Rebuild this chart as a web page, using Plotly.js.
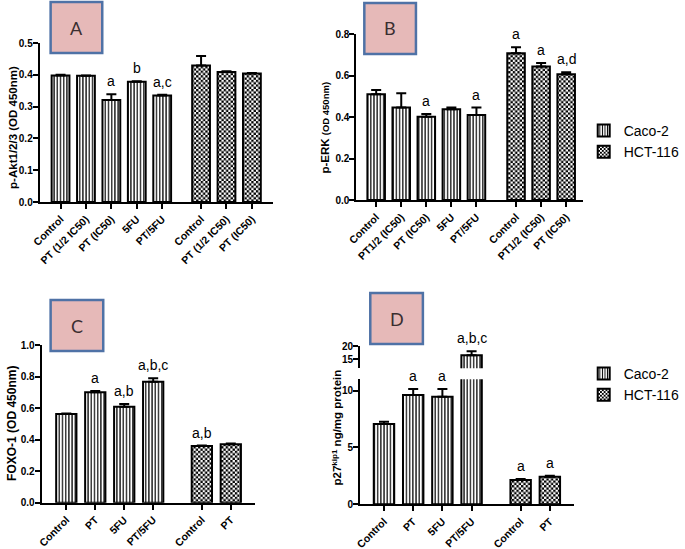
<!DOCTYPE html>
<html>
<head>
<meta charset="utf-8">
<script src="https://cdn.plot.ly/plotly-3.0.1.min.js"></script>
<style>html,body{margin:0;padding:0;background:#fff;}#chart{width:685px;height:549px;}</style>
</head>
<body>
<div id="chart"></div>
<script>
// ---------- DATA ----------
const seriesNames = ["Caco-2", "HCT-116"];

// Panel A
const aCacoLabels = ["Control", "PT (1/2 IC50)", "PT (IC50)", "5FU", "PT/5FU"];
const aCacoVals   = [0.398, 0.397, 0.321, 0.378, 0.335];
const aCacoErr    = [0.002, 0.001, 0.018, 0.002, 0.002];
const aCacoSig    = ["", "", "a", "b", "a,c"];
const aHctLabels  = ["Control", "PT (1/2 IC50)", "PT (IC50)"];
const aHctVals    = [0.429, 0.409, 0.404];
const aHctErr     = [0.030, 0.002, 0.002];
const aHctSig     = ["", "", ""];

// Panel B
const bCacoLabels = ["Control", "PT1/2 (IC50)", "PT (IC50)", "5FU", "PT/5FU"];
const bCacoVals   = [0.510, 0.446, 0.402, 0.438, 0.410];
const bCacoErr    = [0.021, 0.069, 0.013, 0.009, 0.036];
const bCacoSig    = ["", "", "a", "", "a"];
const bHctLabels  = ["Control", "PT1/2 (IC50)", "PT (IC50)"];
const bHctVals    = [0.708, 0.644, 0.607];
const bHctErr     = [0.029, 0.018, 0.010];
const bHctSig     = ["a", "a", "a,d"];

// Panel C
const cCacoLabels = ["Control", "PT", "5FU", "PT/5FU"];
const cCacoVals   = [0.562, 0.700, 0.609, 0.767];
const cCacoErr    = [0.003, 0.008, 0.017, 0.022];
const cCacoSig    = ["", "a", "a,b", "a,b,c"];
const cHctLabels  = ["Control", "PT"];
const cHctVals    = [0.359, 0.370];
const cHctErr     = [0.003, 0.006];
const cHctSig     = ["a,b", ""];

// Panel D
const dCacoLabels = ["Control", "PT", "5FU", "PT/5FU"];
const dCacoVals   = [7.07, 9.62, 9.47, 16.5];
const dCacoErr    = [0.20, 0.53, 0.68, 1.5];
const dCacoSig    = ["", "a", "a", "a,b,c"];
const dHctLabels  = ["Control", "PT"];
const dHctVals    = [2.14, 2.43];
const dHctErr     = [0.09, 0.09];
const dHctSig     = ["a", "a"];

const yTitles = {
  A: "p-Akt1/2/3 (OD 450nm)",
  B: "p-ERK <span style='font-size:9.5px'>(OD 450nm)</span>",
  C: "FOXO-1 (OD 450nm)",
  D: "p27<sup>kip1</sup> ng/mg protein"
};

// ---------- STYLE ----------
const W = 685, H = 549;
const FONT = "Arial, 'Liberation Sans', sans-serif";
const px = v => v / W;
const py = v => 1 - v / H;
const cacoPattern = {shape: "|", fgcolor: "#000", bgcolor: "#fff", size: 3.2, solidity: 0.38};
const hctPattern  = {shape: "+", fgcolor: "#000", bgcolor: "#fff", size: 4.6, solidity: 0.5};

const traces = [];
const annotations = [];
const layout = {
  width: W, height: H,
  margin: {l: 0, r: 0, t: 0, b: 0},
  paper_bgcolor: "#fff", plot_bgcolor: "rgba(0,0,0,0)",
  font: {family: FONT, color: "#000"},
  bargap: 0,
  showlegend: true,
  shapes: [],
  annotations: annotations
};

function axisBase() {
  return {
    showline: true, linecolor: "#000", linewidth: 2,
    ticks: "outside", ticklen: 5, tickwidth: 2, tickcolor: "#000",
    showgrid: false, zeroline: false, fixedrange: true,
    tickfont: {family: FONT, size: 10, weight: "bold", color: "#000"}
  };
}

function panel(o) {
  const xn = o.xn, yn = o.yn;
  const xName = "xaxis" + (xn === 1 ? "" : xn);
  const yName = "yaxis" + (yn === 1 ? "" : yn);
  const xRef = "x" + (xn === 1 ? "" : xn);
  const yRef = "y" + (yn === 1 ? "" : yn);
  const nC = o.cacoLabels.length;
  const cacoX = o.cacoLabels.map((_, i) => i);
  const hctX = o.hctLabels.map((_, j) => nC - 1 + o.gap + j);

  const mk = (name, xs, vals, errs, pattern, yr, showleg) => ({
    type: "bar", name: name, x: xs, y: vals, xaxis: xRef, yaxis: yr,
    width: 0.7,
    marker: {color: "#fff", pattern: pattern, line: {color: "#000", width: 2}},
    error_y: {type: "data", symmetric: false, array: errs, arrayminus: errs.map(() => 0),
              color: "#000", thickness: 2, width: 5},
    showlegend: !!showleg, legend: o.legend || "legend",
    hoverinfo: "skip"
  });
  traces.push(mk(seriesNames[0], cacoX, o.cacoVals, o.cacoErr, cacoPattern, yRef, o.legend));
  traces.push(mk(seriesNames[1], hctX, o.hctVals, o.hctErr, hctPattern, yRef, o.legend));

  const xa = axisBase();
  Object.assign(xa, {
    domain: [px(o.xpx[0]), px(o.xpx[1])], range: o.xrange, anchor: yRef,
    tickmode: "array", tickvals: cacoX.concat(hctX), ticktext: o.cacoLabels.concat(o.hctLabels),
    tickangle: -45,
    tickfont: {family: FONT, size: 10.5, weight: "bold", color: "#000"}
  });
  layout[xName] = xa;

  const ya = axisBase();
  Object.assign(ya, {
    domain: [py(o.ypx[1]), py(o.ypx[0])], range: o.yrange, anchor: xRef,
    tickmode: "array", tickvals: o.ytickvals, ticktext: o.ytickvals.map(o.fmt),
    ticklabelstandoff: -2
  });
  layout[yName] = ya;

  // upper segment for broken axis
  let upRef = null;
  if (o.upper) {
    const un = o.upper.yn;
    upRef = "y" + un;
    const ua = axisBase();
    Object.assign(ua, {
      domain: [py(o.upper.ypx[1]), py(o.upper.ypx[0])], range: o.upper.yrange, anchor: xRef,
      tickmode: "array", tickvals: o.upper.ytickvals, ticktext: o.upper.ytickvals.map(o.fmt),
      ticklabelstandoff: -2
    });
    layout["yaxis" + un] = ua;
    traces.push(mk(seriesNames[0], cacoX, o.cacoVals, o.cacoErr, cacoPattern, upRef, false));
  }

  const addSig = (xs, vals, errs, sig) => {
    sig.forEach((s, i) => {
      if (!s) return;
      const top = vals[i] + errs[i];
      const useUp = upRef && top > o.yrange[1];
      annotations.push({
        x: xs[i], y: top, xref: xRef, yref: useUp ? upRef : yRef,
        text: s, showarrow: false, yanchor: "bottom", yshift: 3,
        font: {family: FONT, size: 14, color: "#000"}
      });
    });
  };
  addSig(cacoX, o.cacoVals, o.cacoErr, o.cacoSig);
  addSig(hctX, o.hctVals, o.hctErr, o.hctSig);

  // y title
  annotations.push({
    x: px(o.title.x), y: py(o.title.y), xref: "paper", yref: "paper",
    text: o.title.text, textangle: -90, showarrow: false,
    xanchor: "center", yanchor: "middle",
    font: {family: FONT, size: o.title.size, weight: "bold", color: "#000"}
  });

  // letter box
  const b = o.box;
  layout.shapes.push({
    type: "rect", xref: "paper", yref: "paper",
    x0: px(b[0]), x1: px(b[2]), y0: py(b[3]), y1: py(b[1]),
    fillcolor: "#e6b9b8", line: {color: "#4f72a6", width: 2.5}, layer: "above"
  });
  annotations.push({
    x: px((b[0] + b[2]) / 2), y: py((b[1] + b[3]) / 2), xref: "paper", yref: "paper",
    text: o.letter, showarrow: false, xanchor: "center", yanchor: "middle",
    font: {family: "Lato, 'Open Sans', sans-serif", size: 18, color: "#3a2e30"}
  });
}

const f1 = v => v.toFixed(1);
const f0 = v => String(v);

panel({xn: 1, yn: 1, cacoLabels: aCacoLabels, cacoVals: aCacoVals, cacoErr: aCacoErr, cacoSig: aCacoSig,
  hctLabels: aHctLabels, hctVals: aHctVals, hctErr: aHctErr, hctSig: aHctSig, gap: 1.53,
  xpx: [40, 275], ypx: [43, 202], xrange: [-0.82, 8.36], yrange: [0, 0.5],
  ytickvals: [0, 0.1, 0.2, 0.3, 0.4, 0.5], fmt: f1,
  title: {text: yTitles.A, x: 13, y: 127, size: 11.5}, box: [51, 2, 103, 53], letter: "A"});

panel({xn: 2, yn: 2, cacoLabels: bCacoLabels, cacoVals: bCacoVals, cacoErr: bCacoErr, cacoSig: bCacoSig,
  hctLabels: bHctLabels, hctVals: bHctVals, hctErr: bHctErr, hctSig: bHctSig, gap: 1.58,
  xpx: [359, 587], ypx: [34.3, 200], xrange: [-0.79, 8.24], yrange: [0, 0.8],
  ytickvals: [0, 0.2, 0.4, 0.6, 0.8], fmt: f1, legend: "legend",
  title: {text: yTitles.B, x: 327, y: 128, size: 11.5}, box: [367, 3, 419, 54], letter: "B"});

panel({xn: 3, yn: 3, cacoLabels: cCacoLabels, cacoVals: cCacoVals, cacoErr: cCacoErr, cacoSig: cCacoSig,
  hctLabels: cHctLabels, hctVals: cHctVals, hctErr: cHctErr, hctSig: cHctSig, gap: 1.68,
  xpx: [42, 257], ypx: [345, 502.7], xrange: [-0.85, 6.52], yrange: [0, 1.0],
  ytickvals: [0, 0.2, 0.4, 0.6, 0.8, 1.0], fmt: f1,
  title: {text: yTitles.C, x: 12, y: 423, size: 12}, box: [51, 300, 104, 351], letter: "C"});

panel({xn: 4, yn: 4, cacoLabels: dCacoLabels, cacoVals: dCacoVals, cacoErr: dCacoErr, cacoSig: dCacoSig,
  hctLabels: dHctLabels, hctVals: dHctVals, hctErr: dHctErr, hctSig: dHctSig, gap: 1.68,
  xpx: [362.7, 578], ypx: [379.3, 504.3], xrange: [-0.82, 6.5], yrange: [0, 11],
  ytickvals: [0, 5, 10], fmt: f0, legend: "legend2",
  upper: {yn: 5, ypx: [346, 368.3], yrange: [11.6, 20], ytickvals: [15, 20]},
  title: {text: yTitles.D, x: 339, y: 428, size: 11.5}, box: [373, 293, 426, 344], letter: "D"});

const legendStyle = (ytop) => ({
  x: px(588), y: py(ytop), xref: "paper", yref: "paper", xanchor: "left", yanchor: "top",
  bgcolor: "rgba(0,0,0,0)", borderwidth: 0,
  font: {family: FONT, size: 14, color: "#000"}, itemwidth: 30, tracegroupgap: 0
});
layout.legend = legendStyle(115);
layout.legend2 = legendStyle(358);

// turn the HCT-116 "+" fill texture into a checkerboard like the original
function checkerboard(gd) {
  gd.querySelectorAll("pattern").forEach(p => {
    const path = p.querySelector("path");
    if (!path) return;
    const d = path.getAttribute("d") || "";
    if ((d.match(/M/g) || []).length < 2) return;   // only the "+" texture
    const s = parseFloat(p.getAttribute("width")) || 4;
    const h = s / 2;
    path.setAttribute("d", `M0,0h${h}v${h}h-${h}zM${h},${h}h${h}v${h}h-${h}z`);
    path.setAttribute("fill", "#000");
    path.setAttribute("stroke", "none");
    path.removeAttribute("stroke-width");
  });
}

Plotly.newPlot("chart", traces, layout, {staticPlot: true, displayModeBar: false})
  .then(gd => { try { checkerboard(gd); } catch (e) {} });
</script>
</body>
</html>
